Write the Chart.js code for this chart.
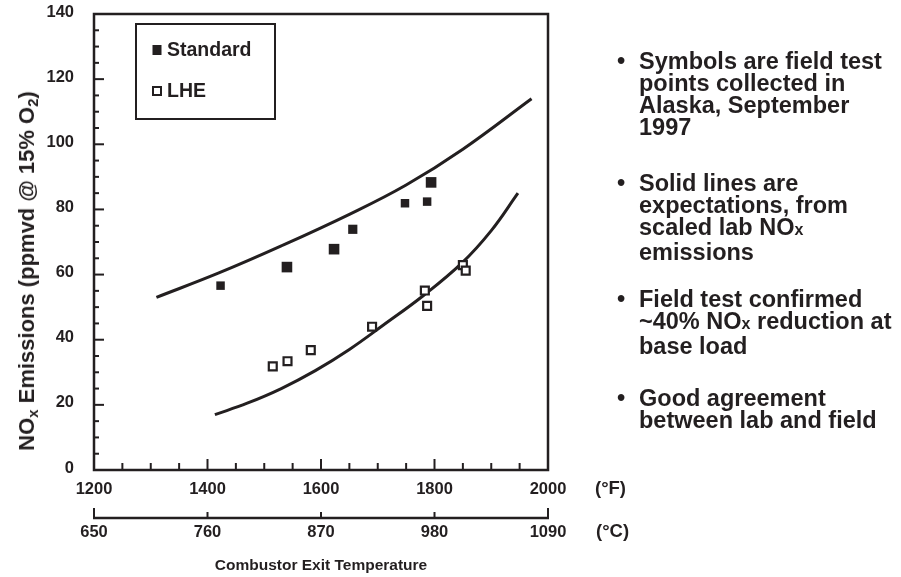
<!DOCTYPE html>
<html>
<head>
<meta charset="utf-8">
<script src="https://cdn.jsdelivr.net/npm/chart.js@4.4.1/dist/chart.umd.min.js"></script>
<style>
  html, body { margin: 0; padding: 0; background: #ffffff; }
  #wrap { position: relative; width: 901px; height: 577px; overflow: hidden;
          font-family: "Liberation Sans", Arial, Helvetica, sans-serif; font-weight: bold; color: #231f20; }
  #c { position: absolute; left: 0; top: 0; }
  .ytitle { position: absolute; left: 27px; top: 271px; white-space: nowrap; font-size: 22px;
            transform: translate(-50%, -50%) rotate(-90deg); }
  .ytitle sub { font-size: 15px; vertical-align: -4px; line-height: 0; }
  .unit { position: absolute; font-size: 18.5px; transform: translateY(-50%); }
  .item { position: absolute; left: 617px; width: 284px; font-size: 23.5px; line-height: 22px; }
  .item .dot { position: absolute; left: 0; top: 0; }
  .item .txt { margin-left: 22px; }
  .sm { font-size: 16px; }
</style>
</head>
<body>
<div id="wrap">
  <canvas id="c" width="901" height="577"></canvas>
  <div class="ytitle">NO<sub>x</sub> Emissions (ppmvd @ 15% O<sub>2</sub>)</div>
  <div class="unit" style="left:595px; top:488px;">(°F)</div>
  <div class="unit" style="left:596px; top:531px;">(°C)</div>
  <div class="item" style="top:50px;"><span class="dot">•</span><div class="txt">Symbols are field test<br>points collected in<br>Alaska, September<br>1997</div></div>
  <div class="item" style="top:172px;"><span class="dot">•</span><div class="txt">Solid lines are<br>expectations, from<br>scaled lab NO<span class="sm">x</span><br>emissions</div></div>
  <div class="item" style="top:288px;"><span class="dot">•</span><div class="txt">Field test confirmed<br>~40% NO<span class="sm">x</span> reduction at<br>base load</div></div>
  <div class="item" style="top:387px;"><span class="dot">•</span><div class="txt">Good agreement<br>between lab and field</div></div>
</div>
<script>
// ---- data ----
const stdTempF = [1423, 1540, 1623, 1656, 1748, 1787, 1794];
const stdNOx   = [56.6, 62.3, 67.8, 73.9, 81.9, 82.4, 88.3];
const lheTempF = [1515, 1541, 1582, 1690, 1783, 1787, 1850, 1855];
const lheNOx   = [31.8, 33.4, 36.8, 44.0, 55.1, 50.4, 62.9, 61.2];
const stdCurveTempF = [1310, 1420, 1530, 1650, 1750, 1850, 1971];
const stdCurveNOx   = [53.0, 60.5, 68.8, 78.5, 87.5, 98.5, 114.0];
const lheCurveTempF = [1413, 1470, 1530, 1590, 1650, 1710, 1780, 1848, 1900, 1947];
const lheCurveNOx   = [17.0, 20.5, 25.0, 30.5, 37.0, 44.5, 53.5, 63.5, 73.5, 85.0];
const fTicks = [1200, 1400, 1600, 1800, 2000];
const cTicks = [650, 760, 870, 980, 1090];
const yTicks = [0, 20, 40, 60, 80, 100, 120, 140];
const seriesNames = ['Standard', 'LHE'];
const xTitle = 'Combustor Exit Temperature';

const INK = '#231f20';
const FONT = '"Liberation Sans", Arial, Helvetica, sans-serif';

function pts(xs, ys) { return xs.map((x, i) => ({ x: x, y: ys[i] })); }

const framePlugin = {
  id: 'frame',
  afterDraw(chart) {
    const { ctx, chartArea: a, scales } = chart;
    const line = (x1, y1, x2, y2) => { ctx.beginPath(); ctx.moveTo(x1, y1); ctx.lineTo(x2, y2); ctx.stroke(); };
    ctx.save();
    ctx.strokeStyle = INK;
    ctx.lineWidth = 2.5;
    ctx.strokeRect(a.left, a.top, a.right - a.left, a.bottom - a.top);
    ctx.lineWidth = 2;
    const y = scales.y, x = scales.x, c = scales.xC;
    for (let v = yTicks[0] + 5; v < yTicks[yTicks.length - 1]; v += 5) {
      const py = y.getPixelForValue(v);
      const len = yTicks.includes(v) ? 10 : 5;
      line(a.left, py, a.left + len, py);
    }
    for (let v = fTicks[0] + 50; v < fTicks[fTicks.length - 1]; v += 50) {
      const px = x.getPixelForValue(v);
      const len = fTicks.includes(v) ? 11 : 7;
      line(px, a.bottom, px, a.bottom - len);
    }
    const cy = c.top;
    ctx.lineWidth = 2.5;
    line(c.left - 1, cy, c.right + 1, cy);
    ctx.lineWidth = 2;
    cTicks.forEach((v, i) => {
      const px = c.getPixelForValue(v);
      const len = (i === 0 || i === cTicks.length - 1) ? 10 : 6;
      line(px, cy, px, cy - len);
    });
    // legend box
    const lx = a.left + 42, ly = a.top + 10, lw = 139, lh = 95;
    ctx.lineWidth = 2;
    ctx.strokeRect(lx, ly, lw, lh);
    ctx.font = 'bold 19.5px ' + FONT;
    ctx.textBaseline = 'middle';
    ctx.fillStyle = INK;
    const ds = chart.data.datasets;
    [0, 1].forEach(i => {
      const my = ly + (i === 0 ? 26 : 67);
      const mx = lx + 21;
      if (ds[i].backgroundColor === INK) {
        ctx.fillRect(mx - 4.5, my - 5, 9, 10);
      } else {
        ctx.fillStyle = '#fff';
        ctx.fillRect(mx - 4, my - 4, 8, 8);
        ctx.strokeRect(mx - 4, my - 4, 8, 8);
      }
      ctx.fillStyle = INK;
      ctx.fillText(ds[i].label, lx + 31, my + 1);
    });
    ctx.restore();
  }
};

const tickFont = { family: FONT, size: 16.5, weight: 'bold' };

new Chart(document.getElementById('c'), {
  type: 'scatter',
  data: {
    datasets: [
      { label: seriesNames[0], data: pts(stdTempF, stdNOx), pointStyle: 'rect',
        backgroundColor: INK, borderColor: INK, borderWidth: 0,
        pointRadius: [6, 7.5, 7.5, 6.5, 6, 6, 7.5], order: 1 },
      { label: seriesNames[1], data: pts(lheTempF, lheNOx), pointStyle: 'rect',
        backgroundColor: '#ffffff', borderColor: INK, borderWidth: 2.2,
        pointRadius: 5.6, order: 1 },
      { label: 'Standard expectation', data: pts(stdCurveTempF, stdCurveNOx), showLine: true,
        borderColor: INK, borderWidth: 3, pointRadius: 0, tension: 0.4, fill: false, order: 2 },
      { label: 'LHE expectation', data: pts(lheCurveTempF, lheCurveNOx), showLine: true,
        borderColor: INK, borderWidth: 3, pointRadius: 0, tension: 0.4, fill: false, order: 2 }
    ]
  },
  options: {
    responsive: false,
    animation: false,
    devicePixelRatio: 1,
    layout: { padding: { left: 0, right: 353, top: 14, bottom: 0 } },
    plugins: { legend: { display: false }, tooltip: { enabled: false } },
    scales: {
      x: {
        type: 'linear', position: 'bottom', min: 1200, max: 2000,
        afterBuildTicks: s => { s.ticks = fTicks.map(v => ({ value: v })); },
        afterFit: s => { s.height = 48; s.paddingLeft = 0; s.paddingRight = 0; },
        grid: { display: false, drawTicks: false },
        border: { display: false },
        ticks: { color: INK, font: tickFont, padding: 10, maxRotation: 0, callback: v => String(v) }
      },
      xC: {
        type: 'linear', position: 'bottom', min: 650, max: 1090,
        afterBuildTicks: s => { s.ticks = cTicks.map(v => ({ value: v })); },
        afterFit: s => { s.height = 59; s.paddingLeft = 0; s.paddingRight = 0; },
        grid: { display: false, drawTicks: false },
        border: { display: false },
        ticks: { color: INK, font: tickFont, padding: 5, maxRotation: 0, callback: v => String(v) },
        title: { display: true, text: xTitle, color: INK, font: { family: FONT, size: 15.5, weight: 'bold' }, padding: { top: 0, bottom: 2 } }
      },
      y: {
        type: 'linear', position: 'left', min: 0, max: 140,
        afterBuildTicks: s => { s.ticks = yTicks.map(v => ({ value: v })); },
        afterFit: s => { s.width = 94; s.paddingTop = 0; s.paddingBottom = 0; },
        grid: { display: false, drawTicks: false },
        border: { display: false },
        ticks: { color: INK, font: tickFont, padding: 20, labelOffset: -2, callback: v => String(v) }
      }
    }
  },
  plugins: [framePlugin]
});
</script>
</body>
</html>
